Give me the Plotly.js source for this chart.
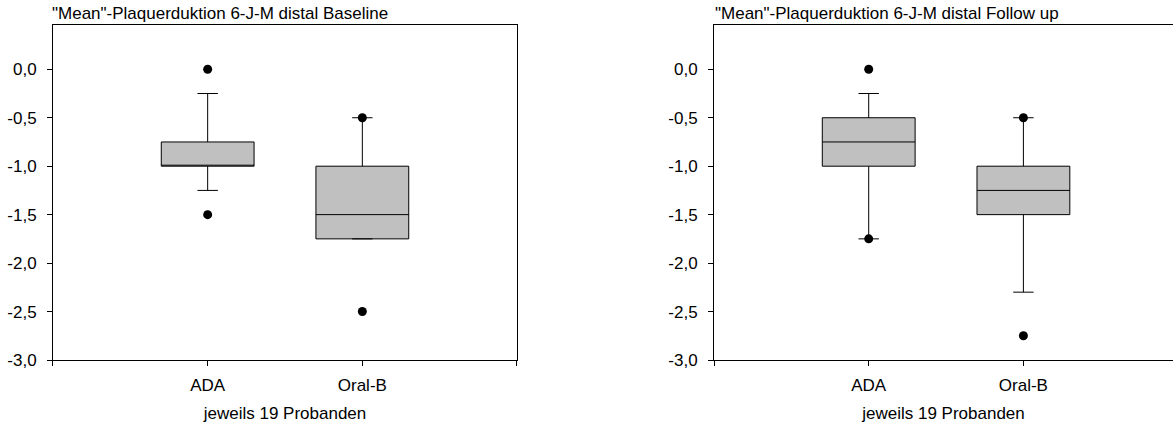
<!DOCTYPE html>
<html>
<head>
<meta charset="utf-8">
<script src="https://cdn.plot.ly/plotly-3.0.1.min.js"></script>
<style>
  html, body { margin: 0; padding: 0; background: #ffffff; }
  #chart { width: 1173px; height: 430px; }
</style>
</head>
<body>
<div id="chart"></div>
<script>
// ---- data ----
const categories = ["ADA", "Oral-B"];

// Baseline
const baseQ1 = [-1.0, -1.75];
const baseMedian = [-1.0, -1.5];
const baseQ3 = [-0.75, -1.0];
const baseLower = [-1.25, -1.75];
const baseUpper = [-0.25, -0.5];
const baseOutliersADA = [0.0, -1.5];
const baseOutliersOralB = [-0.5, -2.5];

// Follow up
const followQ1 = [-1.0, -1.5];
const followMedian = [-0.75, -1.25];
const followQ3 = [-0.5, -1.0];
const followLower = [-1.75, -2.3];
const followUpper = [-0.25, -0.5];
const followOutliersADA = [0.0, -1.75];
const followOutliersOralB = [-0.5, -2.75];

const yTickVals = [0, -0.5, -1.0, -1.5, -2.0, -2.5, -3.0];
const yTickText = ["0,0", "-0,5", "-1,0", "-1,5", "-2,0", "-2,5", "-3,0"];

const titleBaseline = '"Mean"-Plaquerduktion 6-J-M distal Baseline';
const titleFollow = '"Mean"-Plaquerduktion 6-J-M distal Follow up';
const xTitle = "jeweils 19 Probanden";

// ---- build ----
const catIdx = categories.map((c, i) => i);
const FONT = "Liberation Sans, Arial, sans-serif";
const FS = 17;

function boxTrace(q1, med, q3, lo, hi, xa, ya) {
  return {
    type: "box",
    x: catIdx,
    q1: q1, median: med, q3: q3, lowerfence: lo, upperfence: hi,
    width: 0.6,
    whiskerwidth: 0.22,
    fillcolor: "#c0c0c0",
    line: { color: "#000000", width: 1 },
    boxpoints: false,
    hoverinfo: "skip",
    showlegend: false,
    xaxis: xa, yaxis: ya
  };
}
function outlierTrace(outA, outB, xa, ya) {
  const xs = [], ys = [];
  outA.forEach(v => { xs.push(catIdx[0]); ys.push(v); });
  outB.forEach(v => { xs.push(catIdx[1]); ys.push(v); });
  return {
    type: "scatter", mode: "markers", x: xs, y: ys,
    marker: { color: "#000000", size: 9 },
    hoverinfo: "skip", showlegend: false, cliponaxis: false,
    xaxis: xa, yaxis: ya
  };
}

const data = [
  boxTrace(baseQ1, baseMedian, baseQ3, baseLower, baseUpper, "x", "y"),
  outlierTrace(baseOutliersADA, baseOutliersOralB, "x", "y"),
  boxTrace(followQ1, followMedian, followQ3, followLower, followUpper, "x2", "y2"),
  outlierTrace(followOutliersADA, followOutliersOralB, "x2", "y2")
];

const xTickVals = [-1].concat(catIdx).concat([categories.length]);
const xTickText = [""].concat(categories).concat([""]);

function xAxis(domain, range, mirror) {
  return {
    domain: domain, range: range, type: "linear",
    tickmode: "array", tickvals: xTickVals, ticktext: xTickText,
    ticks: "outside", ticklen: 5, tickwidth: 1, tickcolor: "#000",
    ticklabelstandoff: 5,
    showline: true, linecolor: "#000", linewidth: 1, mirror: mirror,
    showgrid: false, zeroline: false, fixedrange: true,
    tickfont: { family: FONT, size: FS, color: "#000" },
    title: { text: xTitle, font: { family: FONT, size: FS, color: "#000" }, standoff: 12 }
  };
}
function yAxis(anchor, mirror) {
  return {
    domain: [0.16279, 0.94186], range: [-3, 0.457], anchor: anchor,
    tickmode: "array", tickvals: yTickVals, ticktext: yTickText,
    ticks: "outside", ticklen: 5, tickwidth: 1, tickcolor: "#000",
    ticklabelstandoff: 7,
    showline: true, linecolor: "#000", linewidth: 1, mirror: mirror,
    showgrid: false, zeroline: false, fixedrange: true,
    tickfont: { family: FONT, size: FS, color: "#000" }
  };
}

const layout = {
  width: 1173, height: 430,
  margin: { l: 0, r: 0, t: 0, b: 0 },
  paper_bgcolor: "#ffffff", plot_bgcolor: "#ffffff",
  showlegend: false,
  xaxis: Object.assign(xAxis([0.04518, 0.44075], [-1, 2], true), { anchor: "y" }),
  yaxis: yAxis("x", true),
  xaxis2: Object.assign(xAxis([0.6087, 1.0], [-1, 1.967], true), { anchor: "y2" }),
  yaxis2: yAxis("x2", false),
  annotations: [
    { text: titleBaseline, xref: "x domain", yref: "y domain", x: 0, y: 1,
      xanchor: "left", yanchor: "bottom", showarrow: false, xshift: -3, yshift: 0,
      font: { family: FONT, size: FS, color: "#000" } },
    { text: titleFollow, xref: "x2 domain", yref: "y2 domain", x: 0, y: 1,
      xanchor: "left", yanchor: "bottom", showarrow: false, xshift: -1, yshift: 0,
      font: { family: FONT, size: FS, color: "#000" } }
  ]
};

Plotly.newPlot("chart", data, layout, { staticPlot: true, displayModeBar: false });
</script>
</body>
</html>
